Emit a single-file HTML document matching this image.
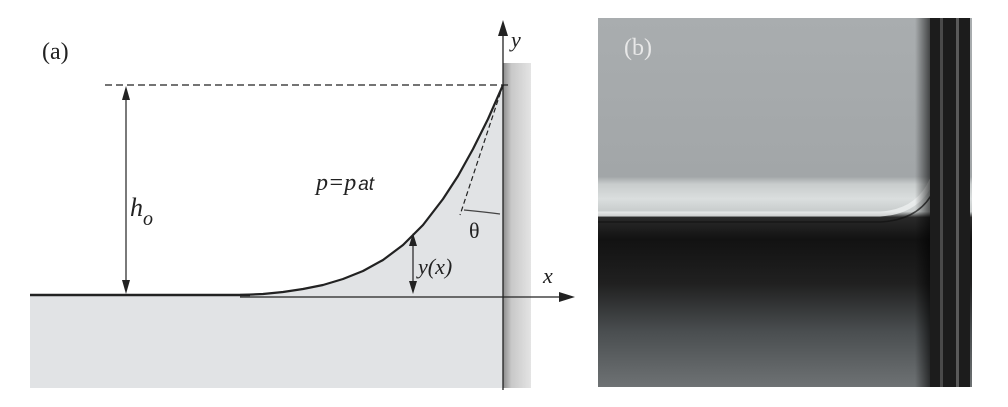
<!DOCTYPE html>
<html><head><meta charset="utf-8"><style>
html,body{margin:0;padding:0;background:#fff;width:1008px;height:407px;overflow:hidden}
svg{display:block}
</style></head><body>
<svg width="1008" height="407" viewBox="0 0 1008 407" font-family="'Liberation Serif', serif">
<defs>
<linearGradient id="wall" x1="0" x2="1"><stop offset="0" stop-color="#8c8c8c"/><stop offset="0.3" stop-color="#c8c8c8"/><stop offset="1" stop-color="#e4e4e4"/></linearGradient>
<linearGradient id="photoV" x1="0" y1="0" x2="0" y2="1">
<stop offset="0" stop-color="#a9adaf"/><stop offset="0.43" stop-color="#a2a6a8"/>
<stop offset="0.45" stop-color="#c8cccc"/><stop offset="0.49" stop-color="#dadede"/>
<stop offset="0.525" stop-color="#c8cccc"/><stop offset="0.54" stop-color="#2a2a2a"/>
<stop offset="0.6" stop-color="#121212"/><stop offset="0.72" stop-color="#202020"/>
<stop offset="0.85" stop-color="#4a4e50"/><stop offset="1" stop-color="#6e7274"/></linearGradient>
<linearGradient id="edge" x1="0" x2="1"><stop offset="0" stop-color="#000" stop-opacity="0"/><stop offset="1" stop-color="#000" stop-opacity="0.6"/></linearGradient>
</defs>
<g>
<rect x="30" y="296" width="500" height="92" fill="#e1e3e5"/>
<rect x="503" y="63" width="28" height="325" fill="url(#wall)"/>
<path id="men-fill" fill="#e1e3e5"/>
<line x1="30" y1="295" x2="250" y2="295" stroke="#222" stroke-width="2.5"/>
<path id="men-line" fill="none" stroke="#222" stroke-width="2.2" stroke-linejoin="round"/>
<line x1="105" y1="85" x2="510" y2="85" stroke="#222" stroke-width="1.3" stroke-dasharray="7,4"/>
<line x1="503" y1="390" x2="503" y2="30" stroke="#222" stroke-width="1.3"/>
<polygon points="503,20 498,36 508,36" fill="#222"/>
<line x1="240" y1="297" x2="565" y2="297" stroke="#222" stroke-width="1.3"/>
<polygon points="575,297 559,292 559,302" fill="#222"/>
<line x1="126" y1="95" x2="126" y2="285" stroke="#222" stroke-width="1.2"/>
<polygon points="126,86 122,100 130,100" fill="#222"/><polygon points="126,294 122,280 130,280" fill="#222"/>
<line x1="413" y1="241" x2="413" y2="286" stroke="#222" stroke-width="1.2"/>
<polygon points="413,233 409,246 417,246" fill="#222"/><polygon points="413,294 409,281 417,281" fill="#222"/>
<line x1="503" y1="85" x2="460" y2="215" stroke="#222" stroke-width="1.2" stroke-dasharray="5,3"/>
<path d="M464,210 Q485,212 500,214" fill="none" stroke="#444" stroke-width="1.3"/>
<text x="42" y="59" font-size="24" fill="#222" font-family="'Liberation Serif', serif">(a)</text>
<text x="511" y="47" font-size="22" fill="#222" font-style="italic" font-family="'Liberation Serif', serif">y</text>
<text x="543" y="283" font-size="22" fill="#222" font-style="italic" font-family="'Liberation Serif', serif">x</text>
<text x="130" y="216" font-size="26" fill="#222" font-style="italic" font-family="'Liberation Serif', serif">h<tspan font-size="20" dy="9">o</tspan></text>
<text x="316" y="190" font-size="24" fill="#222" font-style="italic" font-family="'Liberation Serif', serif">p=p<tspan font-size="19" dx="2" font-family="'Liberation Sans', sans-serif">at</tspan></text>
<text x="469" y="238" font-size="22" fill="#222" font-family="'Liberation Serif', serif">θ</text>
<text x="418" y="274" font-size="22" fill="#222" font-style="italic" font-family="'Liberation Serif', serif">y(x)</text>
</g>
<g>
<rect x="598" y="18" width="374" height="369" fill="url(#photoV)"/>
<path d="M598,214 L880,214 Q918,212 932,180" fill="none" stroke="#eef0f0" stroke-width="5" opacity="0.8"/>
<path d="M598,222 L880,222 Q920,220 934,190" fill="none" stroke="#111" stroke-width="1.5" opacity="0.7"/>
<rect x="915" y="18" width="15" height="369" fill="url(#edge)"/>
<rect x="930" y="18" width="40" height="369" fill="#1c1c1c"/>
<rect x="940" y="18" width="3" height="369" fill="#4a4a4a"/>
<rect x="956" y="18" width="3" height="369" fill="#5a5a5a"/>
<text x="624" y="55" font-size="24" fill="#e8e8e8" font-family="'Liberation Serif', serif">(b)</text>
</g>
<script>
const xs=[-263,-240,-220,-200,-180,-160,-140,-120,-100,-80,-60,-45,-30,-15,0];
const ys=[0,1,3,6,10,16,24,35,50,70,96,119,146,176,210];
const X0=503,Y0=295;
let d='';xs.forEach((x,i)=>{d+=(i?'L':'M')+(X0+x)+','+(Y0-ys[i]);});
document.getElementById('men-line').setAttribute('d',d);
document.getElementById('men-fill').setAttribute('d',d+'L503,296L240,296Z');
</script>
</svg>
</body></html>
